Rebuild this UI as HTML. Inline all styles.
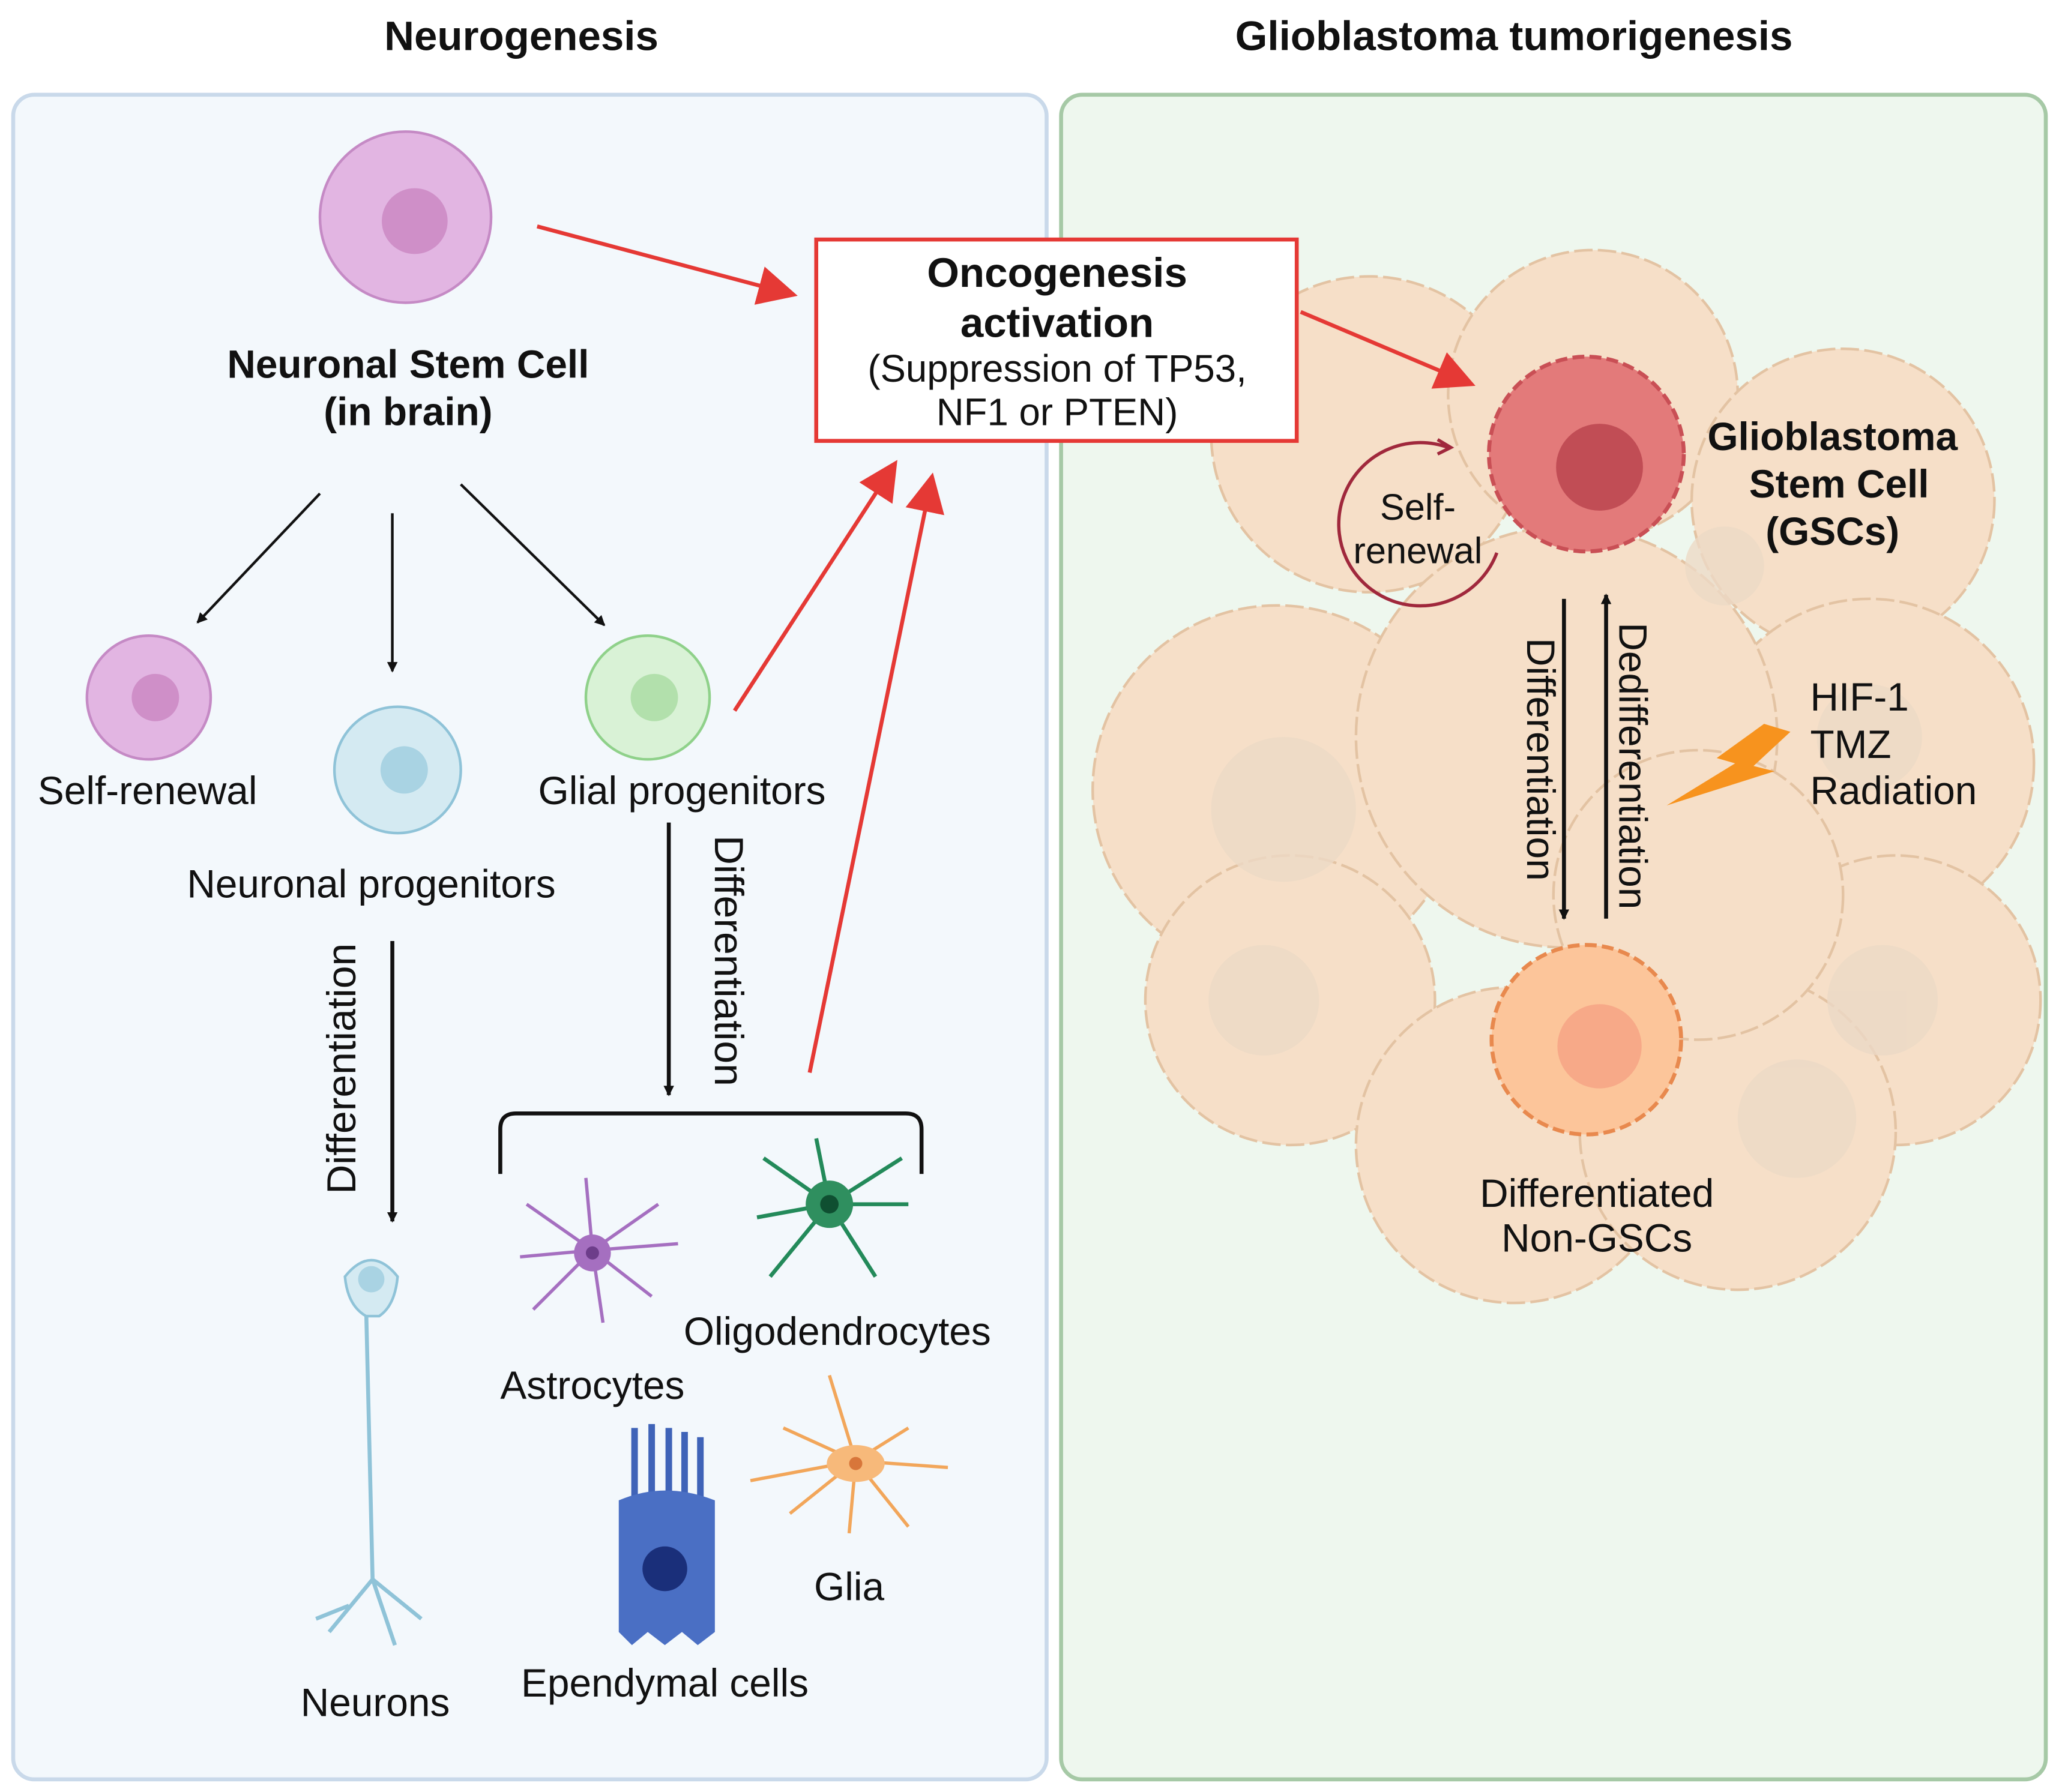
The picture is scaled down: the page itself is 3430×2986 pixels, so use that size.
<!DOCTYPE html>
<html><head><meta charset="utf-8"><style>
html,body{margin:0;padding:0;background:#fff}
svg{display:block}
text{font-family:"Liberation Sans",sans-serif;fill:#111}
</style></head><body>
<svg width="3430" height="2986" viewBox="0 0 1564 1361.6" xmlns="http://www.w3.org/2000/svg">
<defs>
<marker id="ab" markerWidth="8" markerHeight="8" refX="7" refY="4" orient="auto" markerUnits="userSpaceOnUse" viewBox="0 0 8 8"><path d="M0,0 L8,4 L0,8 z" fill="#111"/></marker>
<marker id="ar" markerWidth="10" markerHeight="10" refX="9" refY="5" orient="auto" viewBox="0 0 10 10"><path d="M0,0 L10,5 L0,10 z" fill="#e53935"/></marker>
</defs>
<rect width="1564" height="1362" fill="#fff"/>
<text x="396" y="38" font-size="31.5" font-weight="bold" text-anchor="middle">Neurogenesis</text>
<text x="1150" y="38" font-size="31.5" font-weight="bold" text-anchor="middle">Glioblastoma tumorigenesis</text>
<rect x="10" y="72" width="785" height="1280" rx="16" fill="#f3f8fc" stroke="#c9d9ea" stroke-width="3"/>
<rect x="806" y="72" width="748" height="1280" rx="16" fill="#eef7ee" stroke="#a6c9a6" stroke-width="3"/>

<g fill="#f6dfc8" stroke="#e3c3a3" stroke-width="2" stroke-dasharray="14 4">
<circle cx="1040" cy="330" r="120"/>
<circle cx="1210" cy="300" r="110"/>
<circle cx="1400" cy="380" r="115"/>
<circle cx="970" cy="600" r="140"/>
<circle cx="1420" cy="580" r="125"/>
<circle cx="1190" cy="560" r="160"/>
<circle cx="980" cy="760" r="110"/>
<circle cx="1440" cy="760" r="110"/>
<circle cx="1150" cy="870" r="120"/>
<circle cx="1320" cy="860" r="120"/>
<circle cx="1290" cy="680" r="110"/>
</g>
<g fill="#ecd9c6" opacity="0.8">
<circle cx="975" cy="615" r="55"/><circle cx="1420" cy="560" r="40"/><circle cx="1430" cy="760" r="42"/>
<circle cx="960" cy="760" r="42"/><circle cx="1365" cy="850" r="45"/><circle cx="1310" cy="430" r="30"/>
</g>
<circle cx="1205" cy="345" r="74" fill="#e37a7a" stroke="#c94f55" stroke-width="3" stroke-dasharray="9 4"/>
<circle cx="1215" cy="355" r="33" fill="#c14d55"/>
<text font-size="30" font-weight="bold" text-anchor="middle"><tspan x="1392" y="342">Glioblastoma</tspan><tspan x="1397" y="378">Stem Cell</tspan><tspan x="1392" y="414">(GSCs)</tspan></text>
<path d="M1100,340 A62,62 0 1 0 1137,420" fill="none" stroke="#a0283c" stroke-width="2.5"/>
<path d="M1092,334 l10,6 l-10,5" fill="none" stroke="#a0283c" stroke-width="2.5"/>
<text font-size="28" text-anchor="middle"><tspan x="1077" y="395">Self-</tspan><tspan x="1077" y="428">renewal</tspan></text>
<line x1="1188" y1="455" x2="1188" y2="698" stroke="#111" stroke-width="3" marker-end="url(#ab)"/>
<line x1="1220" y1="698" x2="1220" y2="452" stroke="#111" stroke-width="3" marker-end="url(#ab)"/>
<text font-size="30" text-anchor="middle" transform="translate(1160,577) rotate(90)">Differentiation</text>
<text font-size="30" text-anchor="middle" transform="translate(1230,582) rotate(90)">Dedifferentiation</text>
<circle cx="1205" cy="790" r="72" fill="#fcc59a" stroke="#e8894e" stroke-width="3" stroke-dasharray="9 4"/>
<circle cx="1215" cy="795" r="32" fill="#f7a988"/>
<text font-size="30" text-anchor="middle"><tspan x="1213" y="917">Differentiated</tspan><tspan x="1213" y="951">Non-GSCs</tspan></text>
<path d="M1340,550 L1360,556 L1332,582 L1348,586 L1266,612 L1318,580 L1304,576 Z" fill="#f7931e"/>
<text font-size="30"><tspan x="1375" y="540">HIF-1</tspan><tspan x="1375" y="576">TMZ</tspan><tspan x="1375" y="611">Radiation</tspan></text>

<circle cx="308" cy="165" r="65" fill="#e2b5e2" stroke="#c58ac5" stroke-width="2"/>
<circle cx="315" cy="168" r="25" fill="#cf8fc8"/>
<text font-size="30" font-weight="bold" text-anchor="middle"><tspan x="310" y="287">Neuronal Stem Cell</tspan><tspan x="310" y="323">(in brain)</tspan></text>
<g stroke="#111" stroke-width="2">
<line x1="243" y1="375" x2="150" y2="473" marker-end="url(#ab)"/>
<line x1="298" y1="390" x2="298" y2="510" marker-end="url(#ab)"/>
<line x1="350" y1="368" x2="459" y2="475" marker-end="url(#ab)"/>
<line x1="298" y1="715" x2="298" y2="928" stroke-width="3" marker-end="url(#ab)"/>
<line x1="508" y1="625" x2="508" y2="832" stroke-width="3" marker-end="url(#ab)"/>
</g>
<circle cx="113" cy="530" r="47" fill="#e2b5e2" stroke="#c58ac5" stroke-width="2"/><circle cx="118" cy="530" r="18" fill="#cf8fc8"/>
<circle cx="302" cy="585" r="48" fill="#d4eaf2" stroke="#8fc3d8" stroke-width="2"/><circle cx="307" cy="585" r="18" fill="#a9d3e3"/>
<circle cx="492" cy="530" r="47" fill="#d9f2d6" stroke="#8fd18a" stroke-width="2"/><circle cx="497" cy="530" r="18" fill="#b2e0ac"/>
<text font-size="30" text-anchor="middle"><tspan x="112" y="611">Self-renewal</tspan><tspan x="518" y="611">Glial progenitors</tspan><tspan x="282" y="682">Neuronal progenitors</tspan></text>
<text font-size="31" text-anchor="middle" transform="translate(270,812) rotate(-90)">Differentiation</text>
<text font-size="31" text-anchor="middle" transform="translate(543,730) rotate(90)">Differentiation</text>
<path d="M380,892 V858 Q380,846 392,846 H688 Q700,846 700,858 V892" fill="none" stroke="#111" stroke-width="3"/>

<g stroke="#e53935" stroke-width="3" fill="none">
<line x1="408" y1="172" x2="603" y2="224" marker-end="url(#ar)"/>
<line x1="558" y1="540" x2="680" y2="352" marker-end="url(#ar)"/>
<line x1="615" y1="815" x2="708" y2="362" marker-end="url(#ar)"/>
<line x1="988" y1="237" x2="1118" y2="292" marker-end="url(#ar)"/>
</g>
<rect x="620" y="182" width="365" height="153" fill="#fff" stroke="#e53935" stroke-width="3"/>
<text font-size="31.5" font-weight="bold" text-anchor="middle"><tspan x="803" y="218">Oncogenesis</tspan><tspan x="803" y="256">activation</tspan></text>
<text font-size="29" text-anchor="middle"><tspan x="803" y="290">(Suppression of TP53,</tspan><tspan x="803" y="323">NF1 or PTEN)</tspan></text>

<g stroke="#8fc3d8" stroke-width="3" fill="none">
<path d="M278,990 L283,1200 M283,1200 L250,1240 M283,1200 L300,1250 M283,1200 L320,1230 M265,1220 L240,1230"/>
</g>
<path d="M262,970 Q282,945 302,970 Q300,992 288,1000 L278,1000 Q264,992 262,970 Z" fill="#d4eaf2" stroke="#8fc3d8" stroke-width="2"/>
<circle cx="282" cy="972" r="10" fill="#a9d3e3"/>
<g stroke="#a56fc0" stroke-width="2.5" fill="none">
<path d="M450,950 L400,915 M450,950 L445,895 M450,950 L500,915 M450,950 L515,945 M450,950 L495,985 M450,950 L458,1005 M450,950 L405,995 M450,950 L395,955"/>
</g>
<circle cx="450" cy="952" r="14" fill="#a56fc0"/><circle cx="450" cy="952" r="5" fill="#6d3d8a"/>
<g stroke="#238a5a" stroke-width="3" fill="none">
<path d="M630,915 L580,880 M630,915 L620,865 M630,915 L685,880 M630,915 L690,915 M630,915 L665,970 M630,915 L585,970 M630,915 L575,925"/>
</g>
<circle cx="630" cy="915" r="18" fill="#2f8f5f"/><circle cx="630" cy="915" r="7" fill="#0f4f31"/>
<g stroke="#f2a65a" stroke-width="2.5" fill="none">
<path d="M650,1110 L630,1045 M650,1110 L690,1085 M650,1110 L720,1115 M650,1110 L690,1160 M650,1110 L645,1165 M650,1110 L600,1150 M650,1110 L570,1125 M650,1110 L595,1085"/>
</g>
<ellipse cx="650" cy="1112" rx="22" ry="14" fill="#f7b97a"/><circle cx="650" cy="1112" r="5" fill="#d8763a"/>
<g stroke="#3f63b8" stroke-width="5" fill="none"><path d="M482,1150 V1085 M495,1150 V1082 M508,1150 V1085 M520,1150 V1088 M532,1150 V1092"/></g>
<path d="M470,1140 Q505,1125 543,1140 V1240 L530,1250 L518,1240 L505,1250 L492,1240 L480,1250 L470,1240 Z" fill="#4a6fc4"/>
<circle cx="505" cy="1192" r="17" fill="#1a2f7a"/>
<text font-size="30" text-anchor="middle"><tspan x="450" y="1063">Astrocytes</tspan><tspan x="636" y="1022">Oligodendrocytes</tspan><tspan x="645" y="1216">Glia</tspan><tspan x="505" y="1289">Ependymal cells</tspan><tspan x="285" y="1304">Neurons</tspan></text>
</svg>
</body></html>
